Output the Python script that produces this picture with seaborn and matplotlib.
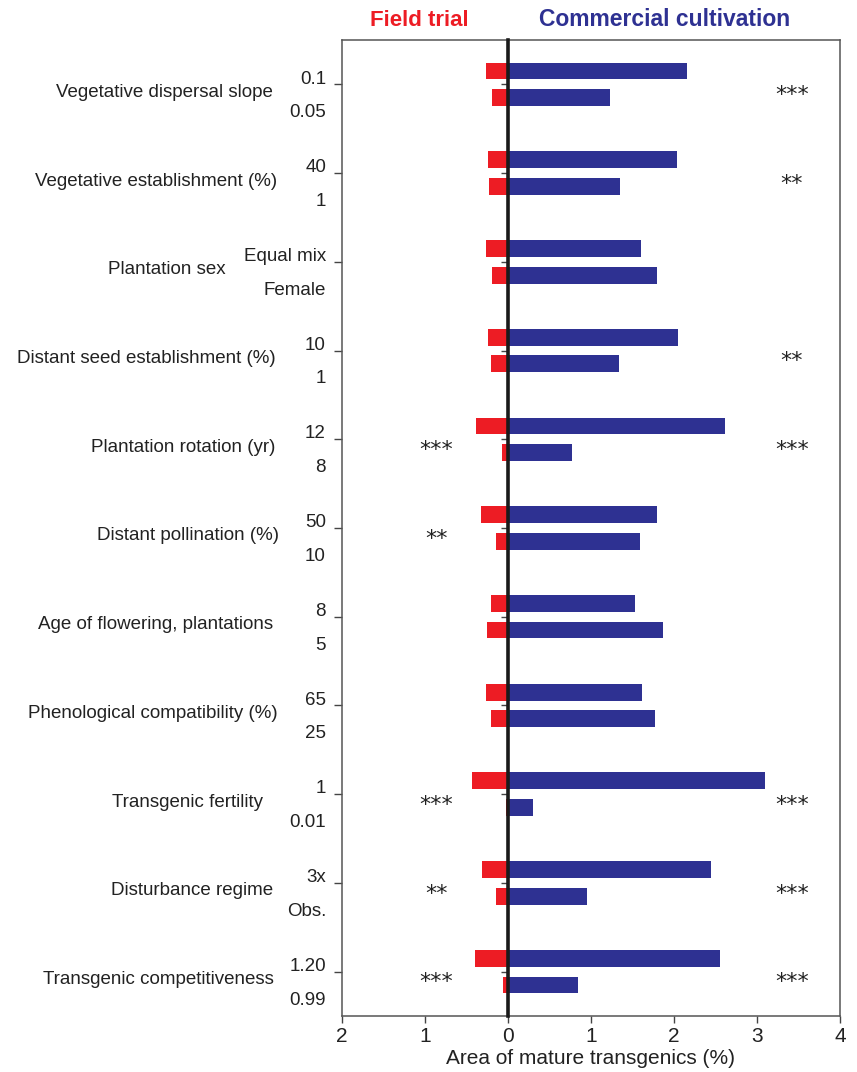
import matplotlib
matplotlib.use("Agg")
import matplotlib.pyplot as plt
import matplotlib.transforms as mtransforms
import numpy as np
import pandas as pd
import seaborn as sns

# ---- data -------------------------------------------------------------
factors = [
    "Vegetative dispersal slope",
    "Vegetative establishment (%)",
    "Plantation sex",
    "Distant seed establishment (%)",
    "Plantation rotation (yr)",
    "Distant pollination (%)",
    "Age of flowering, plantations",
    "Phenological compatibility (%)",
    "Transgenic fertility",
    "Disturbance regime",
    "Transgenic competitiveness",
]
high_levels = ["0.1", "40", "Equal mix", "10", "12", "50", "8", "65", "1", "3x", "1.20"]
low_levels = ["0.05", "1", "Female", "1", "8", "10", "5", "25", "0.01", "Obs.", "0.99"]

field_high = [0.27, 0.24, 0.26, 0.24, 0.39, 0.32, 0.21, 0.26, 0.43, 0.31, 0.40]
field_low = [0.19, 0.23, 0.19, 0.21, 0.07, 0.14, 0.25, 0.20, 0.03, 0.14, 0.06]
commercial_high = [2.16, 2.04, 1.60, 2.05, 2.62, 1.80, 1.53, 1.62, 3.10, 2.44, 2.56]
commercial_low = [1.23, 1.35, 1.79, 1.34, 0.77, 1.59, 1.87, 1.77, 0.30, 0.95, 0.84]

field_sig = ["", "", "", "", "***", "**", "", "", "***", "**", "***"]
commercial_sig = ["***", "**", "", "**", "***", "", "", "", "***", "***", "***"]

x_ticks = [-2, -1, 0, 1, 2, 3, 4]

RED = "#ED1C24"
NAVY = "#2E3192"
INK = "#222222"

# ---- long table -------------------------------------------------------
rows = []
for i, f in enumerate(factors):
    rows.append(dict(factor=f, level="high", scenario="field", value=-field_high[i]))
    rows.append(dict(factor=f, level="low", scenario="field", value=-field_low[i]))
    rows.append(dict(factor=f, level="high", scenario="commercial", value=commercial_high[i]))
    rows.append(dict(factor=f, level="low", scenario="commercial", value=commercial_low[i]))
df = pd.DataFrame(rows)

# ---- figure -----------------------------------------------------------
sns.set_theme(style="white")
plt.rcParams["font.family"] = ["Liberation Sans", "DejaVu Sans"]

W, H = 857, 1072
AX_L, AX_B, AX_W, AX_H = 342 / W, 1 - 1016 / H, (840 - 342) / W, (1016 - 40) / H

fig = plt.figure(figsize=(W / 100, H / 100), dpi=100)
ax = fig.add_axes([AX_L, AX_B, AX_W, AX_H])

for scen, col in (("field", RED), ("commercial", NAVY)):
    sns.barplot(
        data=df[df.scenario == scen], x="value", y="factor", hue="level",
        hue_order=["high", "low"], order=factors, orient="h",
        palette={"high": col, "low": col}, width=0.6, gap=0.37,
        dodge=True, legend=False, saturation=1, linewidth=0, ax=ax,
    )

ax.set_xlim(-2, 4)
ax.set_ylim(len(factors) - 0.5, -0.5)
ax.set_xticks(x_ticks)
ax.set_xticklabels([str(abs(t)) for t in x_ticks], fontsize=15, color=INK)
ax.set_yticks(range(len(factors)))
ax.set_yticklabels([])
ax.set_xlabel("Area of mature transgenics (%)", fontsize=15, color=INK, labelpad=2)
ax.set_ylabel("")
ax.tick_params(axis="x", direction="out", length=5, width=1, color="#444444", pad=3, bottom=True)
ax.tick_params(axis="y", direction="out", length=6, width=1, color="#444444", left=True)
for s in ax.spines.values():
    s.set_color("#555555")
    s.set_linewidth(1.1)

# center line at zero with its own short ticks
ax2 = ax.twinx()
ax2.set_ylim(ax.get_ylim())
ax2.set_yticks(range(len(factors)))
ax2.set_yticklabels([])
ax2.yaxis.tick_left()
ax2.spines["left"].set_position(("data", 0))
ax2.spines["left"].set_linewidth(2.6)
ax2.spines["left"].set_color("#1a1a1a")
for k in ("right", "top", "bottom"):
    ax2.spines[k].set_visible(False)
ax2.tick_params(axis="y", direction="out", length=5, width=1, color="#444444")

# level labels and factor names left of the axes
trans = mtransforms.blended_transform_factory(ax.transAxes, ax.transData)


def px_to_axes(xpx):
    return (xpx / W - AX_L) / AX_W


factor_right = [273, 277, 226, 276, 275, 279, 273, 278, 263, 273, 274]
for i in range(len(factors)):
    ax.text(px_to_axes(326), i - 0.06, high_levels[i], transform=trans,
            ha="right", va="center", fontsize=13.5, color=INK)
    ax.text(px_to_axes(326), i + 0.32, low_levels[i], transform=trans,
            ha="right", va="center", fontsize=13.5, color=INK)
    ax.text(px_to_axes(factor_right[i]), i + 0.09, factors[i], transform=trans,
            ha="right", va="center", fontsize=13.5, color=INK)

# significance marks
for i in range(len(factors)):
    if field_sig[i]:
        ax.text(-0.86, i + 0.19, field_sig[i], ha="center", va="baseline",
                fontsize=16, color=INK, family="DejaVu Sans")
    if commercial_sig[i]:
        ax.text(3.42, i + 0.19, commercial_sig[i], ha="center", va="baseline",
                fontsize=16, color=INK, family="DejaVu Sans")

# panel headings
fig.text(419 / W, 1 - 20 / H, "Field trial", color=RED, fontsize=16,
         fontweight="bold", ha="center", va="center")
fig.text(665 / W, 1 - 20 / H, "Commercial cultivation", color=NAVY, fontsize=16.5,
         fontweight="bold", ha="center", va="center")

fig.savefig("out.png", dpi=100)
